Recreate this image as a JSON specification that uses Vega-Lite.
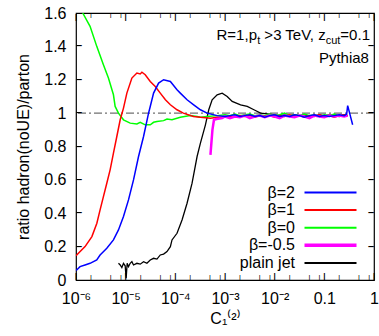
{
  "$schema": "https://vega.github.io/schema/vega-lite/v6.json",
  "width": 298,
  "height": 267,
  "autosize": {"type": "none"},
  "padding": {"left": 76, "top": 13, "right": 5, "bottom": 56},
  "background": "white",
  "config": {
    "view": {"stroke": "black", "strokeWidth": 1.2},
    "font": "Liberation Sans",
    "axis": {"ticks": false, "domain": false, "grid": false, "labelFont": "Liberation Sans", "labelFontSize": 16, "labelColor": "black", "titleFont": "Liberation Sans", "titleFontSize": 16, "titleFontWeight": "normal", "titleColor": "black"},
    "legend": {"orient": "none", "legendX": 246.5, "legendY": 171.5, "padding": 0, "rowPadding": 1.6, "labelFont": "Liberation Sans", "labelFontSize": 16, "labelColor": "black", "labelAlign": "right", "labelOffset": -43.5, "symbolType": "M-4,0H4", "symbolSize": 169, "symbolStrokeWidth": 2}
  },
  "datasets": {
    "xmaj": [{"v": 1e-6}, {"v": 1e-5}, {"v": 1e-4}, {"v": 1e-3}, {"v": 0.01}, {"v": 0.1}, {"v": 1}],
    "xmin": [{"v": 2e-6}, {"v": 5e-6}, {"v": 8e-6}, {"v": 2e-5}, {"v": 5e-5}, {"v": 8e-5}, {"v": 2e-4}, {"v": 5e-4}, {"v": 8e-4}, {"v": 2e-3}, {"v": 5e-3}, {"v": 8e-3}, {"v": 0.02}, {"v": 0.05}, {"v": 0.08}, {"v": 0.2}, {"v": 0.5}, {"v": 0.8}],
    "ytk": [{"v": 0.2}, {"v": 0.4}, {"v": 0.6}, {"v": 0.8}, {"v": 1}, {"v": 1.2}, {"v": 1.4}],
    "d": [
      {"s": "plain jet", "x": 7.161e-6, "y": 0.1},
      {"s": "plain jet", "x": 7.762e-6, "y": 0.09},
      {"s": "plain jet", "x": 8.375e-6, "y": 0.075},
      {"s": "plain jet", "x": 9.036e-6, "y": 0.1},
      {"s": "plain jet", "x": 9.772e-6, "y": 0.085},
      {"s": "plain jet", "x": 1.023e-5, "y": 0.01},
      {"s": "plain jet", "x": 1.072e-5, "y": 0.1},
      {"s": "plain jet", "x": 1.14e-5, "y": 0.08},
      {"s": "plain jet", "x": 1.233e-5, "y": 0.1},
      {"s": "plain jet", "x": 1.334e-5, "y": 0.11},
      {"s": "plain jet", "x": 1.439e-5, "y": 0.09},
      {"s": "plain jet", "x": 1.683e-5, "y": 0.1},
      {"s": "plain jet", "x": 1.963e-5, "y": 0.095},
      {"s": "plain jet", "x": 2.291e-5, "y": 0.11},
      {"s": "plain jet", "x": 2.679e-5, "y": 0.1},
      {"s": "plain jet", "x": 3.126e-5, "y": 0.12},
      {"s": "plain jet", "x": 3.648e-5, "y": 0.13},
      {"s": "plain jet", "x": 4.266e-5, "y": 0.125},
      {"s": "plain jet", "x": 4.977e-5, "y": 0.15},
      {"s": "plain jet", "x": 5.808e-5, "y": 0.155},
      {"s": "plain jet", "x": 6.792e-5, "y": 0.17},
      {"s": "plain jet", "x": 7.943e-5, "y": 0.2},
      {"s": "plain jet", "x": 8.57e-5, "y": 0.24},
      {"s": "plain jet", "x": 1.081e-4, "y": 0.28},
      {"s": "plain jet", "x": 1.365e-4, "y": 0.36},
      {"s": "plain jet", "x": 1.722e-4, "y": 0.46},
      {"s": "plain jet", "x": 2.173e-4, "y": 0.58},
      {"s": "plain jet", "x": 2.742e-4, "y": 0.74},
      {"s": "plain jet", "x": 3.199e-4, "y": 0.82},
      {"s": "plain jet", "x": 4.036e-4, "y": 0.93},
      {"s": "plain jet", "x": 4.71e-4, "y": 1.02},
      {"s": "plain jet", "x": 5.508e-4, "y": 1.08},
      {"s": "plain jet", "x": 6.95e-4, "y": 1.11},
      {"s": "plain jet", "x": 8.77e-4, "y": 1.12},
      {"s": "plain jet", "x": 1.107e-3, "y": 1.1},
      {"s": "plain jet", "x": 1.396e-3, "y": 1.07},
      {"s": "plain jet", "x": 2.056e-3, "y": 1.05},
      {"s": "plain jet", "x": 2.805e-3, "y": 1.04},
      {"s": "plain jet", "x": 3.819e-3, "y": 1.02},
      {"s": "plain jet", "x": 5.212e-3, "y": 1.0},
      {"s": "plain jet", "x": 7.129e-3, "y": 0.995},
      {"s": "plain jet", "x": 0.01, "y": 0.99},
      {"s": "plain jet", "x": 0.01259, "y": 0.985},
      {"s": "plain jet", "x": 0.01585, "y": 0.99},
      {"s": "plain jet", "x": 0.01995, "y": 0.985},
      {"s": "plain jet", "x": 0.02512, "y": 0.99},
      {"s": "plain jet", "x": 0.03162, "y": 0.985},
      {"s": "plain jet", "x": 0.03981, "y": 0.99},
      {"s": "plain jet", "x": 0.05012, "y": 0.98},
      {"s": "plain jet", "x": 0.0631, "y": 0.985},
      {"s": "plain jet", "x": 0.07943, "y": 0.99},
      {"s": "plain jet", "x": 0.1, "y": 0.985},
      {"s": "plain jet", "x": 0.1259, "y": 0.99},
      {"s": "plain jet", "x": 0.1585, "y": 0.985},
      {"s": "plain jet", "x": 0.1995, "y": 0.98},
      {"s": "plain jet", "x": 0.2512, "y": 0.99},
      {"s": "plain jet", "x": 0.2951, "y": 0.985},

      {"s": "β=0", "x": 1.365e-6, "y": 1.6},
      {"s": "β=0", "x": 1.919e-6, "y": 1.52},
      {"s": "β=0", "x": 2.618e-6, "y": 1.4},
      {"s": "β=0", "x": 3.565e-6, "y": 1.29},
      {"s": "β=0", "x": 4.498e-6, "y": 1.21},
      {"s": "β=0", "x": 5.675e-6, "y": 1.11},
      {"s": "β=0", "x": 6.138e-6, "y": 1.04},
      {"s": "β=0", "x": 7.161e-6, "y": 1.0},
      {"s": "β=0", "x": 9.036e-6, "y": 0.96},
      {"s": "β=0", "x": 1.233e-5, "y": 0.94},
      {"s": "β=0", "x": 1.683e-5, "y": 0.935},
      {"s": "β=0", "x": 1.963e-5, "y": 0.945},
      {"s": "β=0", "x": 2.477e-5, "y": 0.93},
      {"s": "β=0", "x": 3.126e-5, "y": 0.93},
      {"s": "β=0", "x": 3.648e-5, "y": 0.945},
      {"s": "β=0", "x": 4.266e-5, "y": 0.95},
      {"s": "β=0", "x": 5.808e-5, "y": 0.955},
      {"s": "β=0", "x": 6.792e-5, "y": 0.965},
      {"s": "β=0", "x": 8.57e-5, "y": 0.96},
      {"s": "β=0", "x": 1.259e-4, "y": 0.975},
      {"s": "β=0", "x": 1.995e-4, "y": 0.985},
      {"s": "β=0", "x": 2.742e-4, "y": 0.98},
      {"s": "β=0", "x": 3.199e-4, "y": 0.975},
      {"s": "β=0", "x": 4.365e-4, "y": 0.98},
      {"s": "β=0", "x": 6.95e-4, "y": 0.985},
      {"s": "β=0", "x": 1e-3, "y": 0.99},
      {"s": "β=0", "x": 1.259e-3, "y": 0.985},
      {"s": "β=0", "x": 1.585e-3, "y": 0.995},
      {"s": "β=0", "x": 1.995e-3, "y": 0.985},
      {"s": "β=0", "x": 2.512e-3, "y": 0.99},
      {"s": "β=0", "x": 3.162e-3, "y": 0.995},
      {"s": "β=0", "x": 3.981e-3, "y": 0.985},
      {"s": "β=0", "x": 5.012e-3, "y": 0.99},
      {"s": "β=0", "x": 6.31e-3, "y": 0.985},
      {"s": "β=0", "x": 7.943e-3, "y": 0.995},
      {"s": "β=0", "x": 0.01, "y": 0.985},
      {"s": "β=0", "x": 0.01259, "y": 0.99},
      {"s": "β=0", "x": 0.01585, "y": 1.0},
      {"s": "β=0", "x": 0.01995, "y": 0.985},
      {"s": "β=0", "x": 0.02512, "y": 0.99},
      {"s": "β=0", "x": 0.03162, "y": 0.985},
      {"s": "β=0", "x": 0.03981, "y": 0.995},
      {"s": "β=0", "x": 0.05012, "y": 0.985},
      {"s": "β=0", "x": 0.0631, "y": 0.99},
      {"s": "β=0", "x": 0.07943, "y": 0.98},
      {"s": "β=0", "x": 0.1, "y": 0.99},
      {"s": "β=0", "x": 0.1259, "y": 0.985},
      {"s": "β=0", "x": 0.1585, "y": 0.995},
      {"s": "β=0", "x": 0.1995, "y": 0.985},
      {"s": "β=0", "x": 0.2512, "y": 0.99},
      {"s": "β=0", "x": 0.2951, "y": 0.985},

      {"s": "β=1", "x": 1e-6, "y": 0.145},
      {"s": "β=1", "x": 1.033e-6, "y": 0.15},
      {"s": "β=1", "x": 1.521e-6, "y": 0.2},
      {"s": "β=1", "x": 2.089e-6, "y": 0.26},
      {"s": "β=1", "x": 2.63e-6, "y": 0.34},
      {"s": "β=1", "x": 3.055e-6, "y": 0.42},
      {"s": "β=1", "x": 3.565e-6, "y": 0.5},
      {"s": "β=1", "x": 4.169e-6, "y": 0.58},
      {"s": "β=1", "x": 4.864e-6, "y": 0.66},
      {"s": "β=1", "x": 5.675e-6, "y": 0.76},
      {"s": "β=1", "x": 6.637e-6, "y": 0.86},
      {"s": "β=1", "x": 7.762e-6, "y": 0.96},
      {"s": "β=1", "x": 9.036e-6, "y": 1.03},
      {"s": "β=1", "x": 1.057e-5, "y": 1.12},
      {"s": "β=1", "x": 1.334e-5, "y": 1.21},
      {"s": "β=1", "x": 1.683e-5, "y": 1.24},
      {"s": "β=1", "x": 1.963e-5, "y": 1.235},
      {"s": "β=1", "x": 2.123e-5, "y": 1.245},
      {"s": "β=1", "x": 2.477e-5, "y": 1.23},
      {"s": "β=1", "x": 3.126e-5, "y": 1.19},
      {"s": "β=1", "x": 3.945e-5, "y": 1.16},
      {"s": "β=1", "x": 4.977e-5, "y": 1.12},
      {"s": "β=1", "x": 6.31e-5, "y": 1.08},
      {"s": "β=1", "x": 7.943e-5, "y": 1.05},
      {"s": "β=1", "x": 1.081e-4, "y": 1.02},
      {"s": "β=1", "x": 1.452e-4, "y": 1.0},
      {"s": "β=1", "x": 2.312e-4, "y": 0.98},
      {"s": "β=1", "x": 3.199e-4, "y": 0.975},
      {"s": "β=1", "x": 5.093e-4, "y": 0.97},
      {"s": "β=1", "x": 6.95e-4, "y": 0.975},
      {"s": "β=1", "x": 1e-3, "y": 0.975},
      {"s": "β=1", "x": 1.259e-3, "y": 0.98},
      {"s": "β=1", "x": 1.585e-3, "y": 0.975},
      {"s": "β=1", "x": 1.995e-3, "y": 0.985},
      {"s": "β=1", "x": 2.512e-3, "y": 0.98},
      {"s": "β=1", "x": 3.162e-3, "y": 0.985},
      {"s": "β=1", "x": 3.981e-3, "y": 0.975},
      {"s": "β=1", "x": 5.012e-3, "y": 0.985},
      {"s": "β=1", "x": 6.31e-3, "y": 0.98},
      {"s": "β=1", "x": 7.943e-3, "y": 0.985},
      {"s": "β=1", "x": 0.01, "y": 0.975},
      {"s": "β=1", "x": 0.01259, "y": 0.985},
      {"s": "β=1", "x": 0.01585, "y": 0.98},
      {"s": "β=1", "x": 0.01995, "y": 0.99},
      {"s": "β=1", "x": 0.02512, "y": 0.98},
      {"s": "β=1", "x": 0.03162, "y": 0.985},
      {"s": "β=1", "x": 0.03981, "y": 0.975},
      {"s": "β=1", "x": 0.05012, "y": 0.985},
      {"s": "β=1", "x": 0.0631, "y": 0.98},
      {"s": "β=1", "x": 0.07943, "y": 0.99},
      {"s": "β=1", "x": 0.1, "y": 0.98},
      {"s": "β=1", "x": 0.1259, "y": 0.985},
      {"s": "β=1", "x": 0.1585, "y": 0.975},
      {"s": "β=1", "x": 0.1995, "y": 0.985},
      {"s": "β=1", "x": 0.2512, "y": 0.99},
      {"s": "β=1", "x": 0.2951, "y": 0.985},

      {"s": "β=-0.5", "x": 5.093e-4, "y": 0.75},
      {"s": "β=-0.5", "x": 5.585e-4, "y": 0.9},
      {"s": "β=-0.5", "x": 5.998e-4, "y": 0.96},
      {"s": "β=-0.5", "x": 6.761e-4, "y": 0.965},
      {"s": "β=-0.5", "x": 8.77e-4, "y": 0.97},
      {"s": "β=-0.5", "x": 1e-3, "y": 0.98},
      {"s": "β=-0.5", "x": 1.259e-3, "y": 0.97},
      {"s": "β=-0.5", "x": 1.585e-3, "y": 0.98},
      {"s": "β=-0.5", "x": 1.995e-3, "y": 0.975},
      {"s": "β=-0.5", "x": 2.512e-3, "y": 0.985},
      {"s": "β=-0.5", "x": 3.162e-3, "y": 0.97},
      {"s": "β=-0.5", "x": 3.981e-3, "y": 0.98},
      {"s": "β=-0.5", "x": 5.012e-3, "y": 0.985},
      {"s": "β=-0.5", "x": 6.31e-3, "y": 0.975},
      {"s": "β=-0.5", "x": 7.943e-3, "y": 0.985},
      {"s": "β=-0.5", "x": 0.01, "y": 0.98},
      {"s": "β=-0.5", "x": 0.01259, "y": 0.97},
      {"s": "β=-0.5", "x": 0.01585, "y": 0.985},
      {"s": "β=-0.5", "x": 0.01995, "y": 0.98},
      {"s": "β=-0.5", "x": 0.02512, "y": 0.975},
      {"s": "β=-0.5", "x": 0.03162, "y": 0.985},
      {"s": "β=-0.5", "x": 0.03981, "y": 0.98},
      {"s": "β=-0.5", "x": 0.05012, "y": 0.97},
      {"s": "β=-0.5", "x": 0.0631, "y": 0.985},
      {"s": "β=-0.5", "x": 0.07943, "y": 0.98},
      {"s": "β=-0.5", "x": 0.1, "y": 0.975},
      {"s": "β=-0.5", "x": 0.1259, "y": 0.985},
      {"s": "β=-0.5", "x": 0.1585, "y": 0.98},
      {"s": "β=-0.5", "x": 0.1995, "y": 0.985},
      {"s": "β=-0.5", "x": 0.2512, "y": 0.98},
      {"s": "β=-0.5", "x": 0.2951, "y": 0.985},

      {"s": "β=2", "x": 1e-6, "y": 0.065},
      {"s": "β=2", "x": 1.033e-6, "y": 0.06},
      {"s": "β=2", "x": 1.205e-6, "y": 0.08},
      {"s": "β=2", "x": 1.521e-6, "y": 0.09},
      {"s": "β=2", "x": 1.919e-6, "y": 0.1},
      {"s": "β=2", "x": 2.618e-6, "y": 0.12},
      {"s": "β=2", "x": 3.055e-6, "y": 0.15},
      {"s": "β=2", "x": 4.169e-6, "y": 0.19},
      {"s": "β=2", "x": 5.675e-6, "y": 0.24},
      {"s": "β=2", "x": 7.161e-6, "y": 0.3},
      {"s": "β=2", "x": 9.036e-6, "y": 0.38},
      {"s": "β=2", "x": 1.14e-5, "y": 0.48},
      {"s": "β=2", "x": 1.439e-5, "y": 0.6},
      {"s": "β=2", "x": 1.816e-5, "y": 0.74},
      {"s": "β=2", "x": 2.291e-5, "y": 0.86},
      {"s": "β=2", "x": 2.891e-5, "y": 1.0},
      {"s": "β=2", "x": 3.126e-5, "y": 1.04},
      {"s": "β=2", "x": 3.648e-5, "y": 1.12},
      {"s": "β=2", "x": 4.603e-5, "y": 1.18},
      {"s": "β=2", "x": 5.808e-5, "y": 1.2},
      {"s": "β=2", "x": 7.943e-5, "y": 1.19},
      {"s": "β=2", "x": 1.081e-4, "y": 1.14},
      {"s": "β=2", "x": 1.259e-4, "y": 1.12},
      {"s": "β=2", "x": 1.722e-4, "y": 1.08},
      {"s": "β=2", "x": 2.344e-4, "y": 1.05},
      {"s": "β=2", "x": 3.199e-4, "y": 1.02},
      {"s": "β=2", "x": 4.365e-4, "y": 1.0},
      {"s": "β=2", "x": 6.95e-4, "y": 0.985},
      {"s": "β=2", "x": 1e-3, "y": 0.98},
      {"s": "β=2", "x": 1.259e-3, "y": 0.985},
      {"s": "β=2", "x": 1.585e-3, "y": 0.99},
      {"s": "β=2", "x": 1.995e-3, "y": 0.98},
      {"s": "β=2", "x": 2.512e-3, "y": 0.985},
      {"s": "β=2", "x": 3.162e-3, "y": 0.99},
      {"s": "β=2", "x": 3.981e-3, "y": 0.98},
      {"s": "β=2", "x": 5.012e-3, "y": 0.985},
      {"s": "β=2", "x": 6.31e-3, "y": 0.975},
      {"s": "β=2", "x": 7.943e-3, "y": 0.985},
      {"s": "β=2", "x": 0.01, "y": 0.99},
      {"s": "β=2", "x": 0.01259, "y": 0.98},
      {"s": "β=2", "x": 0.01585, "y": 0.985},
      {"s": "β=2", "x": 0.01995, "y": 0.98},
      {"s": "β=2", "x": 0.02512, "y": 0.99},
      {"s": "β=2", "x": 0.03162, "y": 0.985},
      {"s": "β=2", "x": 0.03981, "y": 0.975},
      {"s": "β=2", "x": 0.05012, "y": 0.985},
      {"s": "β=2", "x": 0.0631, "y": 0.99},
      {"s": "β=2", "x": 0.07943, "y": 0.98},
      {"s": "β=2", "x": 0.1, "y": 0.985},
      {"s": "β=2", "x": 0.1259, "y": 0.98},
      {"s": "β=2", "x": 0.1585, "y": 0.985},
      {"s": "β=2", "x": 0.1995, "y": 0.99},
      {"s": "β=2", "x": 0.2512, "y": 0.985},
      {"s": "β=2", "x": 0.2818, "y": 0.995},
      {"s": "β=2", "x": 0.2951, "y": 1.045},
      {"s": "β=2", "x": 0.3715, "y": 0.93}
    ]
  },
  "resolve": {"axis": {"x": "independent", "y": "independent"}},
  "layer": [
    {
      "data": {"values": [{}]},
      "mark": {"type": "rule", "color": "#707070", "strokeDash": [8, 3, 2, 3], "strokeWidth": 1.2},
      "encoding": {
        "y": {"datum": 1, "type": "quantitative", "scale": {"domain": [0, 1.6], "nice": false}, "axis": null}
      }
    },
    {
      "data": {"name": "xmaj"},
      "mark": {"type": "text", "text": "|", "font": "Liberation Sans", "fontSize": 8, "fontWeight": "bold", "align": "center", "baseline": "bottom", "color": "black"},
      "encoding": {
        "x": {"field": "v", "type": "quantitative", "scale": {"type": "log", "domain": [1e-6, 1], "nice": false}, "axis": null},
        "y": {"datum": 0, "type": "quantitative", "axis": null}
      }
    },
    {
      "data": {"name": "xmaj"},
      "mark": {"type": "text", "text": "|", "font": "Liberation Sans", "fontSize": 8, "fontWeight": "bold", "align": "center", "baseline": "top", "color": "black"},
      "encoding": {
        "x": {"field": "v", "type": "quantitative", "axis": null},
        "y": {"datum": 1.6, "type": "quantitative", "axis": null}
      }
    },
    {
      "data": {"name": "xmin"},
      "mark": {"type": "text", "text": "|", "font": "Liberation Sans", "fontSize": 5, "fontWeight": "bold", "align": "center", "baseline": "bottom", "color": "black"},
      "encoding": {
        "x": {"field": "v", "type": "quantitative", "axis": null},
        "y": {"datum": 0, "type": "quantitative", "axis": null}
      }
    },
    {
      "data": {"name": "xmin"},
      "mark": {"type": "text", "text": "|", "font": "Liberation Sans", "fontSize": 5, "fontWeight": "bold", "align": "center", "baseline": "top", "color": "black"},
      "encoding": {
        "x": {"field": "v", "type": "quantitative", "axis": null},
        "y": {"datum": 1.6, "type": "quantitative", "axis": null}
      }
    },
    {
      "data": {"name": "ytk"},
      "mark": {"type": "text", "text": "–", "font": "Liberation Sans", "fontSize": 11, "fontWeight": "bold", "align": "left", "baseline": "middle", "color": "black"},
      "encoding": {
        "y": {"field": "v", "type": "quantitative", "axis": null},
        "x": {"datum": 1e-6, "type": "quantitative", "axis": null}
      }
    },
    {
      "data": {"name": "ytk"},
      "mark": {"type": "text", "text": "–", "font": "Liberation Sans", "fontSize": 11, "fontWeight": "bold", "align": "right", "baseline": "middle", "color": "black"},
      "encoding": {
        "y": {"field": "v", "type": "quantitative", "axis": null},
        "x": {"datum": 1, "type": "quantitative", "axis": null}
      }
    },
    {
      "data": {"name": "d"},
      "mark": {"type": "line", "clip": true},
      "encoding": {
        "x": {
          "field": "x", "type": "quantitative",
          "scale": {"type": "log", "domain": [1e-6, 1], "nice": false},
          "axis": {
            "orient": "bottom",
            "values": [1e-6, 1e-5, 1e-4, 1e-3, 0.01, 0.1, 1],
            "labelExpr": "datum.value > 0.5 ? '1' : datum.value > 0.05 ? '0.1' : '10⁻' + substring('⁰¹²³⁴⁵⁶⁷⁸⁹', -round(log(datum.value)/LN10), -round(log(datum.value)/LN10) + 1)",
            "labelPadding": 10,
            "labelFlush": false,
            "labelOverlap": false,
            "title": "C₁⁽²⁾",
            "titlePadding": 4
          }
        },
        "y": {
          "field": "y", "type": "quantitative",
          "scale": {"domain": [0, 1.6], "nice": false},
          "axis": {
            "orient": "left",
            "values": [0, 0.2, 0.4, 0.6, 0.8, 1, 1.2, 1.4, 1.6],
            "format": "~g",
            "labelPadding": 10,
            "labelFlush": false,
            "labelOverlap": false,
            "title": "ratio hadron(noUE)/parton",
            "titlePadding": 12
          }
        },
        "color": {
          "field": "s", "type": "nominal",
          "scale": {"domain": ["β=2", "β=1", "β=0", "β=-0.5", "plain jet"], "range": ["#0000ff", "#ff0000", "#00ff00", "#ff00ff", "#000000"]},
          "legend": {"title": null, "symbolStrokeWidth": {"expr": "datum.value === 'β=-0.5' ? 3.5 : 2"}}
        },
        "strokeWidth": {"condition": [{"test": "datum.s === 'β=-0.5'", "value": 2.5}, {"test": "datum.s === 'plain jet'", "value": 1.3}], "value": 1.5},
        "order": {"field": "x", "type": "quantitative"}
      }
    },
    {
      "data": {"values": [{}]},
      "mark": {"type": "text", "text": "=0.1", "font": "Liberation Sans", "fontSize": 15, "align": "right", "baseline": "alphabetic", "color": "black"},
      "encoding": {
        "x": {"datum": 0.83, "type": "quantitative", "axis": null},
        "y": {"datum": 1.441, "type": "quantitative", "axis": null}
      }
    },
    {
      "data": {"values": [{}]},
      "mark": {"type": "text", "text": "cut", "font": "Liberation Sans", "fontSize": 11, "align": "right", "baseline": "alphabetic", "dx": -29.6, "dy": 4, "color": "black"},
      "encoding": {
        "x": {"datum": 0.83, "type": "quantitative", "axis": null},
        "y": {"datum": 1.441, "type": "quantitative", "axis": null}
      }
    },
    {
      "data": {"values": [{}]},
      "mark": {"type": "text", "text": ">3 TeV, z", "font": "Liberation Sans", "fontSize": 15, "align": "right", "baseline": "alphabetic", "dx": -44.3, "color": "black"},
      "encoding": {
        "x": {"datum": 0.83, "type": "quantitative", "axis": null},
        "y": {"datum": 1.441, "type": "quantitative", "axis": null}
      }
    },
    {
      "data": {"values": [{}]},
      "mark": {"type": "text", "text": "t", "font": "Liberation Sans", "fontSize": 11, "align": "right", "baseline": "alphabetic", "dx": -109.6, "dy": 4, "color": "black"},
      "encoding": {
        "x": {"datum": 0.83, "type": "quantitative", "axis": null},
        "y": {"datum": 1.441, "type": "quantitative", "axis": null}
      }
    },
    {
      "data": {"values": [{}]},
      "mark": {"type": "text", "text": "R=1,p", "font": "Liberation Sans", "fontSize": 15, "align": "right", "baseline": "alphabetic", "dx": -113, "color": "black"},
      "encoding": {
        "x": {"datum": 0.83, "type": "quantitative", "axis": null},
        "y": {"datum": 1.441, "type": "quantitative", "axis": null}
      }
    },
    {
      "data": {"values": [{}]},
      "mark": {"type": "text", "text": "Pythia8", "font": "Liberation Sans", "fontSize": 15, "align": "right", "baseline": "alphabetic", "dx": -1, "color": "black"},
      "encoding": {
        "x": {"datum": 0.83, "type": "quantitative", "axis": null},
        "y": {"datum": 1.302, "type": "quantitative", "axis": null}
      }
    }
  ]
}
